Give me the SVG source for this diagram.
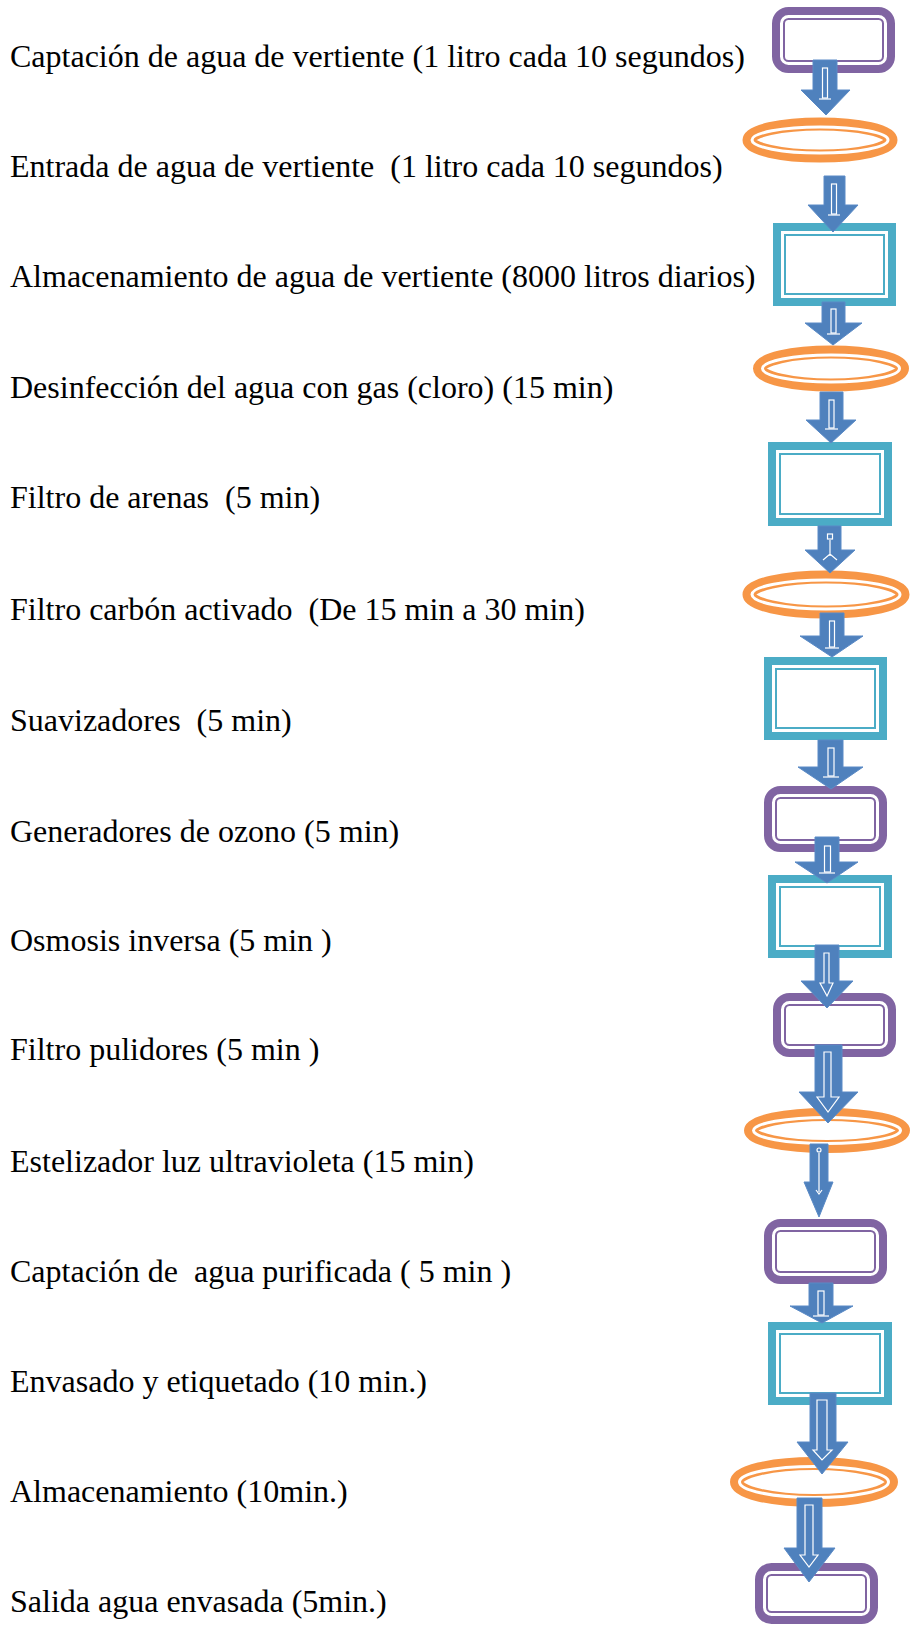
<svg xmlns="http://www.w3.org/2000/svg" width="910" height="1626" viewBox="0 0 910 1626">
<style>
text{font-family:"Liberation Serif","Times New Roman",serif;font-size:32px;fill:#000;white-space:pre}
.band{fill:#fff;stroke-width:13}
.gap{fill:none;stroke:#fff;stroke-width:3}
.p{stroke:#8064A2}
.t{stroke:#4BACC6}
.o{stroke:#F79646}
.arr{fill:#4F81BD;stroke:#5A8AC6;stroke-width:1}
.inner{fill:none;stroke:#fff;stroke-width:1.2}
</style>
<rect width="910" height="1626" fill="#fff"/>
<g id="labels" font-family="Liberation Serif, serif">
<text x="10" y="67">Captación de agua de vertiente (1 litro cada 10 segundos)</text>
<text x="10" y="177">Entrada de agua de vertiente  (1 litro cada 10 segundos)</text>
<text x="10" y="287">Almacenamiento de agua de vertiente (8000 litros diarios)</text>
<text x="10" y="398">Desinfección del agua con gas (cloro) (15 min)</text>
<text x="10" y="508">Filtro de arenas  (5 min)</text>
<text x="10" y="620">Filtro carbón activado  (De 15 min a 30 min)</text>
<text x="10" y="731">Suavizadores  (5 min)</text>
<text x="10" y="842">Generadores de ozono (5 min)</text>
<text x="10" y="951">Osmosis inversa (5 min )</text>
<text x="10" y="1060">Filtro pulidores (5 min )</text>
<text x="10" y="1172">Estelizador luz ultravioleta (15 min)</text>
<text x="10" y="1282">Captación de  agua purificada ( 5 min )</text>
<text x="10" y="1392">Envasado y etiquetado (10 min.)</text>
<text x="10" y="1502">Almacenamiento (10min.)</text>
<text x="10" y="1612">Salida agua envasada (5min.)</text>
</g>
<g id="n1"><rect class="band p" x="778.5" y="13.5" width="110" height="53" rx="10"/><rect class="gap" x="781.5" y="16.5" width="104" height="47" rx="7"/></g>
<g id="n2"><ellipse class="band o" cx="820" cy="140" rx="71" ry="16"/><ellipse class="gap" cx="820" cy="140" rx="68" ry="13"/></g>
<g id="n3"><rect class="band t" x="779.5" y="229.5" width="110" height="70"/><rect class="gap" x="782.5" y="232.5" width="104" height="64"/></g>
<g id="n4"><ellipse class="band o" cx="831" cy="368.5" rx="71.5" ry="16.5"/><ellipse class="gap" cx="831" cy="368.5" rx="68.5" ry="13.5"/></g>
<g id="n5"><rect class="band t" x="774.5" y="448.5" width="111" height="71"/><rect class="gap" x="777.5" y="451.5" width="105" height="65"/></g>
<g id="n6"><ellipse class="band o" cx="826" cy="594.5" rx="77" ry="17.5"/><ellipse class="gap" cx="826" cy="594.5" rx="74" ry="14.5"/></g>
<g id="n7"><rect class="band t" x="770.5" y="663.5" width="110" height="70"/><rect class="gap" x="773.5" y="666.5" width="104" height="64"/></g>
<g id="n8"><rect class="band p" x="770.5" y="792.5" width="110" height="53" rx="10"/><rect class="gap" x="773.5" y="795.5" width="104" height="47" rx="7"/></g>
<g id="n9"><rect class="band t" x="774.5" y="881.5" width="111" height="70"/><rect class="gap" x="777.5" y="884.5" width="105" height="64"/></g>
<g id="n10"><rect class="band p" x="779.5" y="999.5" width="110" height="51" rx="10"/><rect class="gap" x="782.5" y="1002.5" width="104" height="45" rx="7"/></g>
<g id="n11"><ellipse class="band o" cx="827" cy="1130.5" rx="76.5" ry="16"/><ellipse class="gap" cx="827" cy="1130.5" rx="73.5" ry="13"/></g>
<g id="n12"><rect class="band p" x="770.5" y="1225.5" width="110" height="52" rx="10"/><rect class="gap" x="773.5" y="1228.5" width="104" height="46" rx="7"/></g>
<g id="n13"><rect class="band t" x="774.5" y="1328.5" width="111" height="70"/><rect class="gap" x="777.5" y="1331.5" width="105" height="64"/></g>
<g id="n14"><ellipse class="band o" cx="814" cy="1482" rx="77.5" ry="18.5"/><ellipse class="gap" cx="814" cy="1482" rx="74.5" ry="15.5"/></g>
<g id="n15"><rect class="band p" x="761.5" y="1569.5" width="110" height="48" rx="10"/><rect class="gap" x="764.5" y="1572.5" width="104" height="42" rx="7"/></g>
<g id="connectors">
<path class="arr" d="M813,60 H837 V90 H850 L826,115 L801,90 H813 Z"/><rect class="inner" x="822.5" y="68" width="5" height="30"/><path class="inner" d="M819,99 H831"/>
<path class="arr" d="M824,176 H845 V205 H858 L833,232 L808,205 H824 Z"/><rect class="inner" x="831.5" y="184" width="5" height="30"/><path class="inner" d="M828,215 H840"/>
<path class="arr" d="M822,302 H845 V323 H862 L833,345 L805,323 H822 Z"/><rect class="inner" x="831" y="309" width="5" height="24"/><path class="inner" d="M827,334 H840"/>
<path class="arr" d="M820,392 H843 V420 H856 L831,443 L806,420 H820 Z"/><rect class="inner" x="829" y="400" width="5" height="28"/><path class="inner" d="M825,429 H838"/>
<path class="arr" d="M818,526 H841 V550 H855 L830,573 L805,550 H818 Z"/><rect class="inner" x="827.5" y="534" width="5" height="5"/><path class="inner" d="M830,540 V556 M823,560 L830,554 L837,560"/>
<path class="arr" d="M820,613 H844 V636 H863 L832,657 L800,636 H820 Z"/><rect class="inner" x="829.5" y="621" width="5" height="26"/><path class="inner" d="M825,648 H839"/>
<path class="arr" d="M818,740 H843 V767 H863 L831,789 L798,767 H818 Z"/><rect class="inner" x="828" y="748" width="6" height="28"/><path class="inner" d="M823,777 H839"/>
<path class="arr" d="M815,837 H839 V862 H858 L827,883 L795,862 H815 Z"/><rect class="inner" x="824.5" y="846" width="6" height="26"/><path class="inner" d="M819,873 H835"/>
<path class="arr" d="M815,945 H839 V981 H853 L827,1008 L801,981 H815 Z"/><path class="inner" d="M824,953 H829 V983 H833 L827,996 L820,983 H824 Z"/>
<path class="arr" d="M815,1045 H842 V1092 H858 L828,1123 L799,1092 H815 Z"/><path class="inner" d="M824,1052 H831 V1097 H839 L828,1112 L817,1097 H824 Z"/>
<path class="arr" d="M810,1144 H828 V1182 H833 L819,1217 L804,1182 H810 Z"/><path class="inner" d="M819,1153 V1192 M816,1190 L819,1194 L822,1190"/><circle class="inner" cx="819" cy="1150" r="2"/>
<path class="arr" d="M809,1283 H833 V1306 H853 L822,1323 L790,1306 H809 Z"/><rect class="inner" x="818" y="1291" width="6" height="24"/><path class="inner" d="M813,1316 H829"/>
<path class="arr" d="M810,1393 H836 V1442 H848 L822,1474 L797,1442 H810 Z"/><path class="inner" d="M817,1400 H827 V1450 H832 L822,1460 L813,1450 H817 Z"/>
<path class="arr" d="M797,1498 H822 V1548 H835 L809,1582 L784,1548 H797 Z"/><path class="inner" d="M805,1505 H813 V1555 H818 L809,1567 L800,1555 H805 Z"/>
</g>
</svg>
